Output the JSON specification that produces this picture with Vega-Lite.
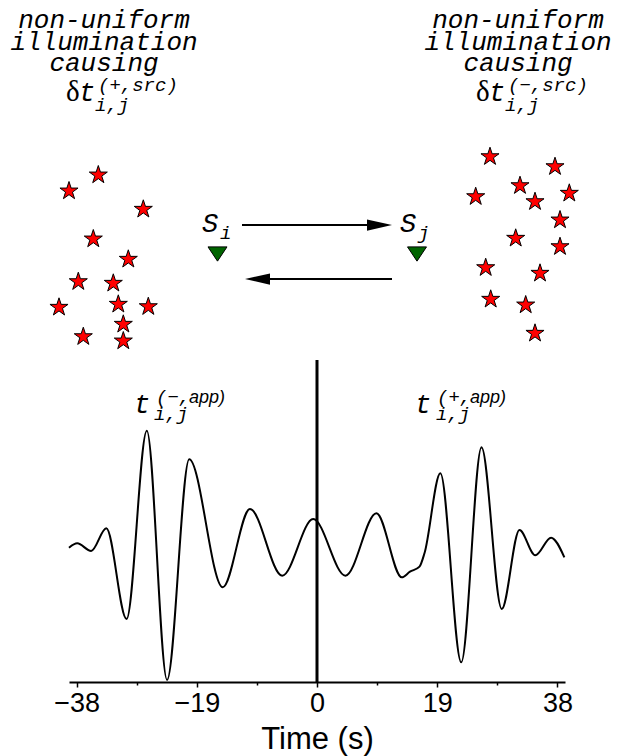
{
  "$schema": "https://vega.github.io/schema/vega-lite/v6.json",
  "width": 496,
  "height": 682,
  "autosize": {"type": "none"},
  "padding": {"left": 69, "right": 53, "top": 0, "bottom": 74},
  "background": "white",
  "config": {"view": {"stroke": null}},
  "datasets": {
    "wave": [
      {"t": -39.2, "amp": 0.019},
      {"t": -37.9, "amp": 0.056},
      {"t": -35.7, "amp": -0.008},
      {"t": -33.3, "amp": 0.181},
      {"t": -30.1, "amp": -0.575},
      {"t": -26.9, "amp": 0.994},
      {"t": -23.7, "amp": -1.083},
      {"t": -20.2, "amp": 0.756},
      {"t": -14.9, "amp": -0.311},
      {"t": -10.6, "amp": 0.342},
      {"t": -5.5, "amp": -0.214},
      {"t": -0.6, "amp": 0.258},
      {"t": 4.5, "amp": -0.214},
      {"t": 9.4, "amp": 0.306},
      {"t": 13.4, "amp": -0.228},
      {"t": 14.7, "amp": -0.181},
      {"t": 16.2, "amp": -0.139},
      {"t": 17.0, "amp": -0.025},
      {"t": 19.5, "amp": 0.639},
      {"t": 22.8, "amp": -0.936},
      {"t": 26.0, "amp": 0.856},
      {"t": 29.2, "amp": -0.492},
      {"t": 32.0, "amp": 0.167},
      {"t": 34.5, "amp": -0.044},
      {"t": 37.0, "amp": 0.103},
      {"t": 39.1, "amp": -0.061}
    ],
    "zeroLag": [{"t": 0, "top": 1.583, "bottom": -1.1}],
    "stars": [
      {"side": "i", "x": 2.93, "y": 17.5},
      {"side": "i", "x": 0.0, "y": 19.1},
      {"side": "i", "x": 7.43, "y": 20.93},
      {"side": "i", "x": 2.43, "y": 23.9},
      {"side": "i", "x": 5.93, "y": 25.93},
      {"side": "i", "x": 0.93, "y": 28.17},
      {"side": "i", "x": 4.43, "y": 28.33},
      {"side": "i", "x": -1.0, "y": 30.73},
      {"side": "i", "x": 4.93, "y": 30.43},
      {"side": "i", "x": 7.93, "y": 30.67},
      {"side": "i", "x": 5.43, "y": 32.43},
      {"side": "i", "x": 1.43, "y": 33.67},
      {"side": "i", "x": 5.43, "y": 34.1},
      {"side": "j", "x": 42.1, "y": 15.67},
      {"side": "j", "x": 48.6, "y": 16.67},
      {"side": "j", "x": 45.1, "y": 18.57},
      {"side": "j", "x": 40.67, "y": 19.67},
      {"side": "j", "x": 50.03, "y": 19.33},
      {"side": "j", "x": 46.6, "y": 20.17},
      {"side": "j", "x": 49.1, "y": 22.0},
      {"side": "j", "x": 44.67, "y": 23.83},
      {"side": "j", "x": 49.1, "y": 24.67},
      {"side": "j", "x": 41.67, "y": 26.77},
      {"side": "j", "x": 47.1, "y": 27.33},
      {"side": "j", "x": 42.17, "y": 29.93},
      {"side": "j", "x": 45.67, "y": 30.5},
      {"side": "j", "x": 46.6, "y": 33.33}
    ],
    "stations": [
      {"name": "i", "x": 14.85, "y": 25.4},
      {"name": "j", "x": 34.8, "y": 25.4}
    ],
    "paths": [
      {"dir": "i to j", "x": 17.3, "x2": 30.1, "y": 22.5},
      {"dir": "j to i", "x": 20.1, "x2": 32.3, "y": 27.9}
    ],
    "heads": [
      {"dir": "i to j", "x": 31.05, "y": 22.5},
      {"dir": "j to i", "x": 18.85, "y": 27.9}
    ],
    "captions": [
      {"text": "non-uniform", "x": 3.5, "y": 2.75},
      {"text": "illumination", "x": 3.5, "y": 4.95},
      {"text": "causing", "x": 3.5, "y": 7.1},
      {"text": "non-uniform", "x": 44.9, "y": 2.75},
      {"text": "illumination", "x": 44.9, "y": 4.95},
      {"text": "causing", "x": 44.9, "y": 7.1}
    ],
    "symbols": [
      {"text": "t", "x": 1.0, "y": 10.1},
      {"text": "t", "x": 42.0, "y": 10.1},
      {"text": "S", "x": 13.3, "y": 23.2},
      {"text": "S", "x": 33.1, "y": 23.2},
      {"text": "t", "x": 6.5, "y": 41.3},
      {"text": "t", "x": 34.6, "y": 41.3}
    ],
    "deltas": [
      {"text": "δ", "x": -0.3, "y": 10.1},
      {"text": "δ", "x": 40.7, "y": 10.1}
    ],
    "scripts": [
      {"text": "(+,src)", "x": 2.9, "y": 9.1},
      {"text": "i,j", "x": 2.6, "y": 11.1},
      {"text": "(−,src)", "x": 43.9, "y": 9.1},
      {"text": "i,j", "x": 43.6, "y": 11.1},
      {"text": "i", "x": 15.1, "y": 23.9},
      {"text": "j", "x": 34.9, "y": 23.9},
      {"text": "(−,", "x": 8.7, "y": 40.3},
      {"text": "i,j", "x": 8.5, "y": 42.0},
      {"text": "(+,", "x": 36.8, "y": 40.3},
      {"text": "i,j", "x": 36.7, "y": 42.0}
    ],
    "appLabels": [
      {"text": "app)", "x": 12.0, "y": 40.3},
      {"text": "app)", "x": 40.1, "y": 40.3}
    ]
  },
  "layer": [
    {
      "layer": [
        {
          "data": {"name": "wave"},
          "mark": {"type": "line", "color": "black", "strokeWidth": 2, "interpolate": "monotone"},
          "encoding": {
            "x": {
              "field": "t", "type": "quantitative",
              "scale": {"domain": [-39.2, 39.2], "nice": false, "zero": false},
              "axis": {
                "values": [-38, -28.5, -19, -9.5, 0, 9.5, 19, 28.5, 38],
                "format": "d",
                "labelExpr": "datum.value % 19 === 0 ? datum.label : ''",
                "title": "Time (s)",
                "titleFont": "Liberation Sans",
                "titleFontSize": 31,
                "titleFontWeight": "normal",
                "titleColor": "black",
                "titlePadding": 8,
                "labelFont": "Liberation Sans",
                "labelFontSize": 27,
                "labelColor": "black",
                "labelPadding": 3,
                "labelOverlap": false,
                "labelFlush": false,
                "domainColor": "black",
                "domainWidth": 2,
                "tickColor": "black",
                "tickWidth": 1.5,
                "tickSize": {"condition": {"test": "datum.value % 19 === 0", "value": 5}, "value": 3},
                "grid": false
              }
            },
            "y": {
              "field": "amp", "type": "quantitative",
              "scale": {"domain": [-1.1, 4.5833], "nice": false, "zero": false},
              "axis": null
            }
          }
        },
        {
          "data": {"name": "zeroLag"},
          "mark": {"type": "rule", "color": "black", "strokeWidth": 3},
          "encoding": {
            "x": {"field": "t", "type": "quantitative"},
            "y": {"field": "top", "type": "quantitative"},
            "y2": {"field": "bottom"}
          }
        }
      ]
    },
    {
      "layer": [
        {
          "data": {"name": "paths"},
          "mark": {"type": "rule", "color": "black", "strokeWidth": 2.2},
          "encoding": {
            "x": {"field": "x", "type": "quantitative", "scale": {"domain": [0, 49.6], "nice": false, "zero": false}, "axis": null},
            "x2": {"field": "x2"},
            "y": {"field": "y", "type": "quantitative", "scale": {"domain": [0, 68.2], "nice": false, "zero": false, "reverse": true}, "axis": null}
          }
        },
        {
          "data": {"name": "heads"},
          "mark": {"type": "point", "filled": true, "color": "black", "size": 625, "opacity": 1},
          "encoding": {
            "x": {"field": "x", "type": "quantitative", "axis": null},
            "y": {"field": "y", "type": "quantitative", "axis": null},
            "shape": {
              "field": "dir", "type": "nominal", "legend": null,
              "scale": {"domain": ["i to j", "j to i"], "range": ["M1,0L-1,-0.45L-1,0.45Z", "M-1,0L1,-0.45L1,0.45Z"]}
            }
          }
        },
        {
          "data": {"name": "stars"},
          "mark": {
            "type": "point", "filled": true, "fill": "#ff0000", "stroke": "black", "strokeWidth": 1, "opacity": 1, "size": 361,
            "shape": "M0,-1L0.2245,-0.309L0.9511,-0.309L0.3633,0.118L0.5878,0.809L0,0.382L-0.5878,0.809L-0.3633,0.118L-0.9511,-0.309L-0.2245,-0.309Z"
          },
          "encoding": {
            "x": {"field": "x", "type": "quantitative", "axis": null},
            "y": {"field": "y", "type": "quantitative", "axis": null}
          }
        },
        {
          "data": {"name": "stations"},
          "mark": {
            "type": "point", "filled": true, "fill": "#006400", "stroke": "black", "strokeWidth": 1, "opacity": 1, "size": 361,
            "shape": "M-1,-0.75L1,-0.75L0,0.75Z"
          },
          "encoding": {
            "x": {"field": "x", "type": "quantitative", "axis": null},
            "y": {"field": "y", "type": "quantitative", "axis": null}
          }
        },
        {
          "data": {"name": "captions"},
          "mark": {"type": "text", "font": "Liberation Mono", "fontStyle": "italic", "fontSize": 26, "align": "center", "baseline": "alphabetic", "color": "black"},
          "encoding": {
            "x": {"field": "x", "type": "quantitative", "axis": null},
            "y": {"field": "y", "type": "quantitative", "axis": null},
            "text": {"field": "text"}
          }
        },
        {
          "data": {"name": "symbols"},
          "mark": {"type": "text", "font": "Liberation Mono", "fontStyle": "italic", "fontSize": 27, "align": "left", "baseline": "alphabetic", "color": "black"},
          "encoding": {
            "x": {"field": "x", "type": "quantitative", "axis": null},
            "y": {"field": "y", "type": "quantitative", "axis": null},
            "text": {"field": "text"}
          }
        },
        {
          "data": {"name": "deltas"},
          "mark": {"type": "text", "font": "Liberation Serif", "fontSize": 29, "align": "left", "baseline": "alphabetic", "color": "black"},
          "encoding": {
            "x": {"field": "x", "type": "quantitative", "axis": null},
            "y": {"field": "y", "type": "quantitative", "axis": null},
            "text": {"field": "text"}
          }
        },
        {
          "data": {"name": "scripts"},
          "mark": {"type": "text", "font": "Liberation Mono", "fontStyle": "italic", "fontSize": 19, "align": "left", "baseline": "alphabetic", "color": "black"},
          "encoding": {
            "x": {"field": "x", "type": "quantitative", "axis": null},
            "y": {"field": "y", "type": "quantitative", "axis": null},
            "text": {"field": "text"}
          }
        },
        {
          "data": {"name": "appLabels"},
          "mark": {"type": "text", "font": "Liberation Sans", "fontStyle": "italic", "fontSize": 18, "align": "left", "baseline": "alphabetic", "color": "black"},
          "encoding": {
            "x": {"field": "x", "type": "quantitative", "axis": null},
            "y": {"field": "y", "type": "quantitative", "axis": null},
            "text": {"field": "text"}
          }
        }
      ]
    }
  ],
  "resolve": {"scale": {"x": "independent", "y": "independent", "shape": "independent"}}
}
